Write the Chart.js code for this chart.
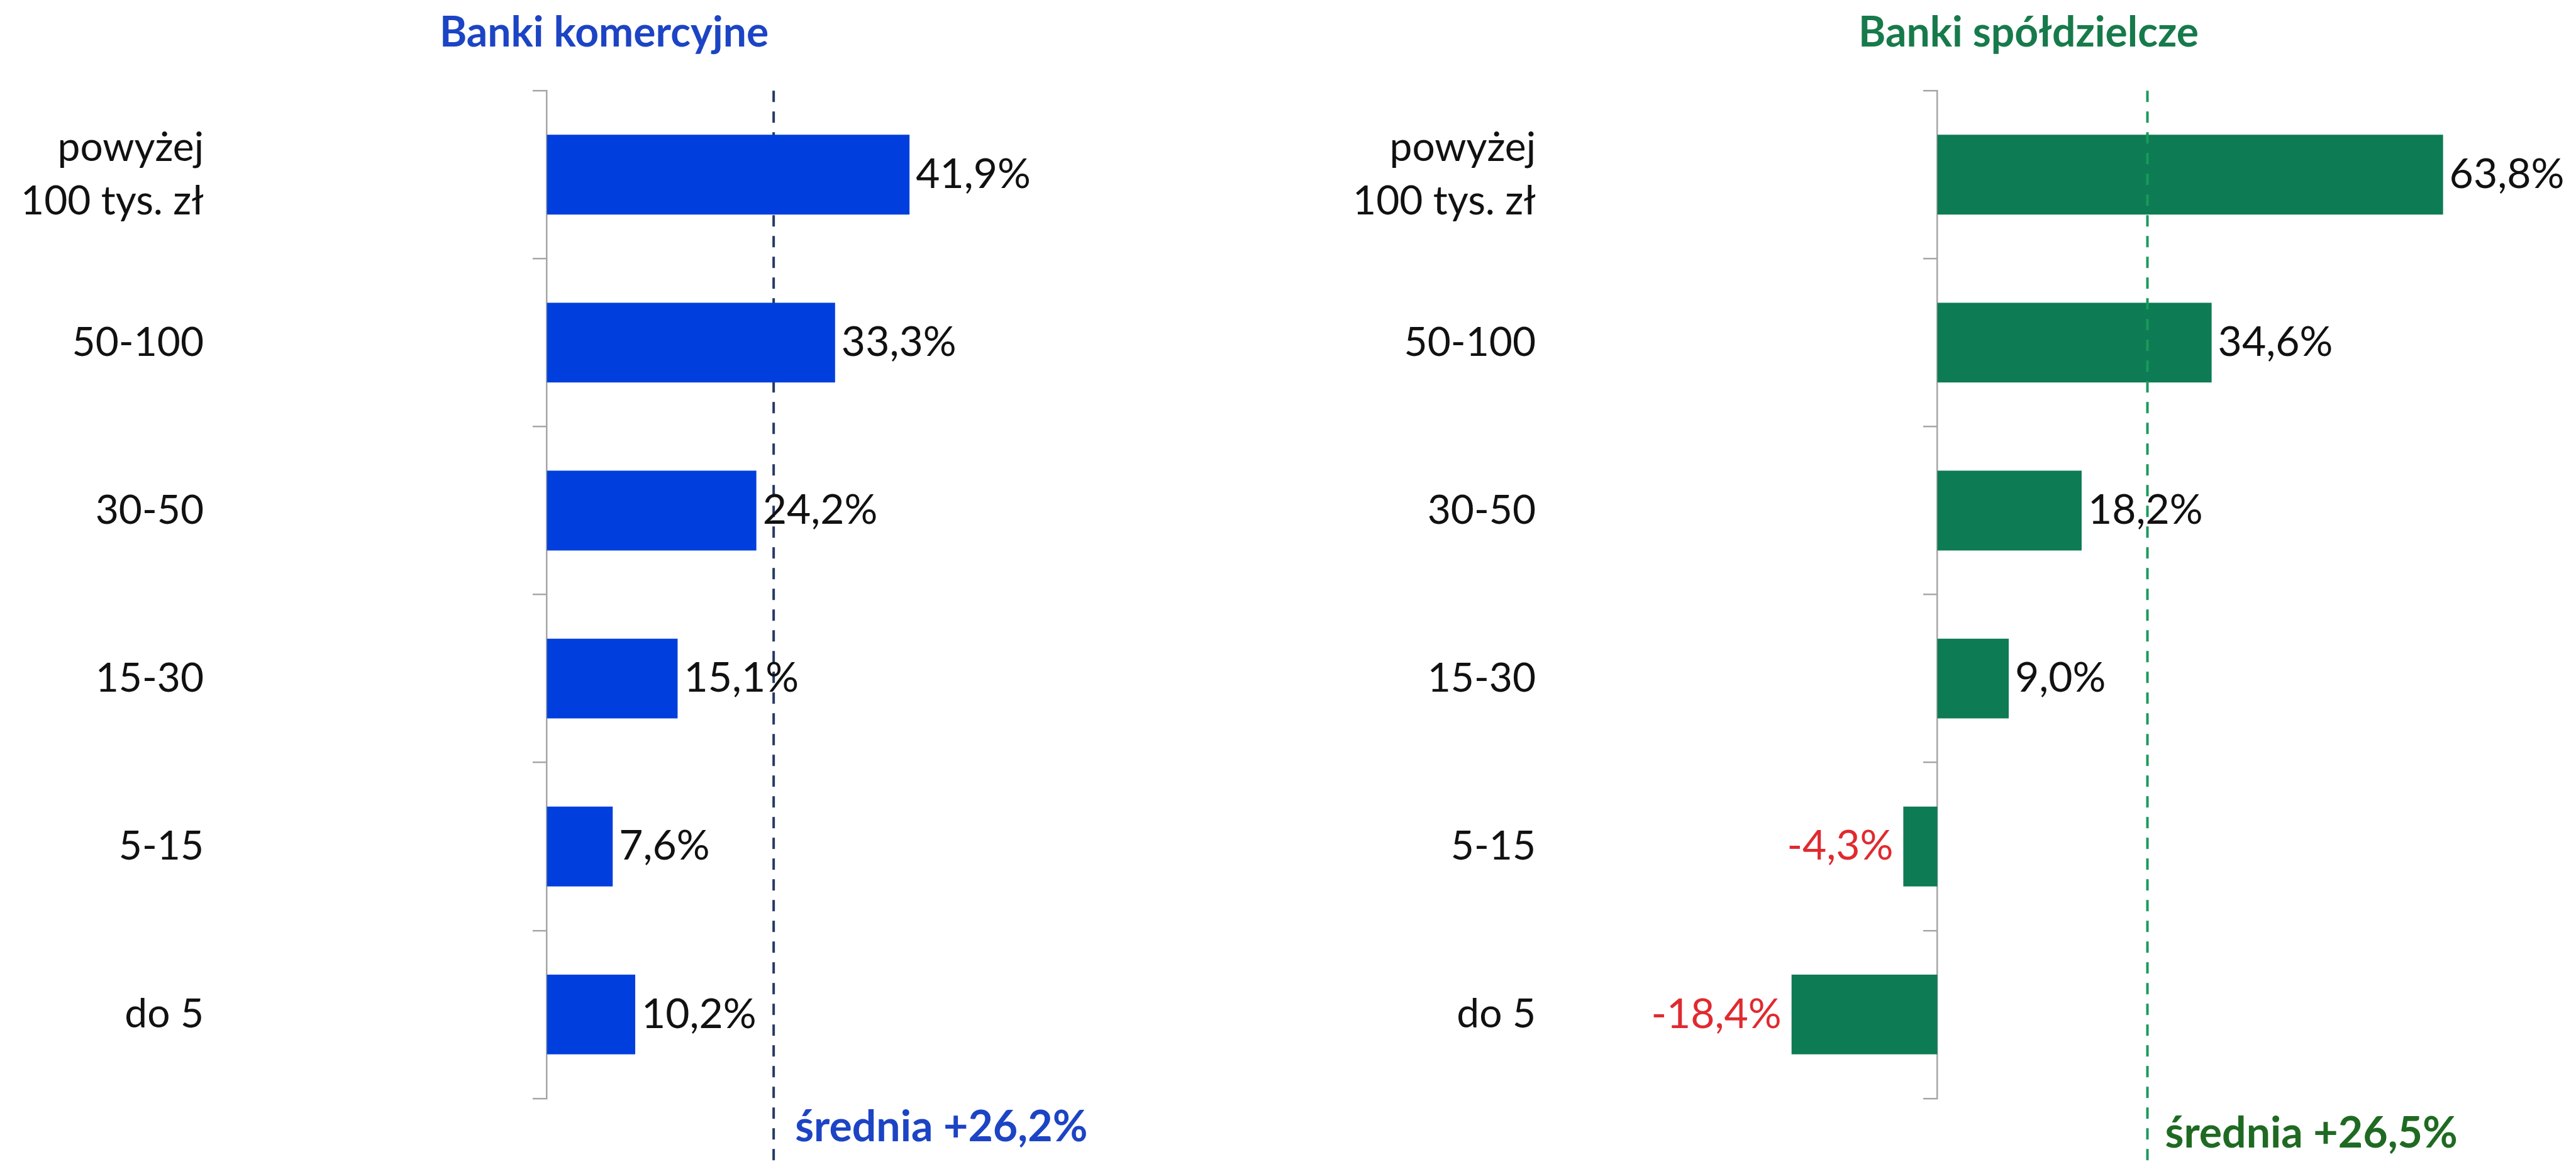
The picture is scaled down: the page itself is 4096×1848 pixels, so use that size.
<!DOCTYPE html>
<html lang="pl">
<head>
<meta charset="UTF-8">
<title>Banki komercyjne i spółdzielcze</title>
<script src="https://cdn.jsdelivr.net/npm/chart.js"></script>
<style>
  html, body { margin: 0; padding: 0; background: #fff; }
  .wrap { display: flex; width: 4096px; height: 1848px; }
  canvas { display: block; }
</style>
</head>
<body>
<div class="wrap">
  <canvas id="chartKom" width="2048" height="1848"></canvas>
  <canvas id="chartSpol" width="2048" height="1848"></canvas>
</div>
<script>
// dane
const categories = [["powyżej", "100 tys. zł"], "50-100", "30-50", "15-30", "5-15", "do 5"];
const komercyjne = [41.9, 33.3, 24.2, 15.1, 7.6, 10.2];
const spoldzielcze = [63.8, 34.6, 18.2, 9.0, -4.3, -18.4];
const sredniaKom = 26.2;
const sredniaSpol = 26.5;

const fontFamily = "Lato, 'Open Sans', sans-serif";
const fmt = v => v.toFixed(1).replace(".", ",") + "%";

// etykiety wartości przy słupkach
const valueLabels = {
    id: "valueLabels",
    afterDatasetsDraw(chart) {
        const ctx = chart.ctx;
        const meta = chart.getDatasetMeta(0);
        const data = chart.data.datasets[0].data;
        ctx.save();
        ctx.font = "66px " + fontFamily;
        ctx.textBaseline = "middle";
        meta.data.forEach((bar, i) => {
            const v = data[i];
            if (v < 0) {
                ctx.fillStyle = "#e02a2f";
                ctx.textAlign = "right";
                ctx.fillText(fmt(v), bar.x - 16, bar.y);
            } else {
                ctx.fillStyle = "#111";
                ctx.textAlign = "left";
                ctx.fillText(fmt(v), bar.x + 10, bar.y);
            }
        });
        ctx.restore();
    }
};

// linia średniej
function drawSrednia(chart, opts) {
    const { ctx, chartArea } = chart;
    const px = chart.scales.x.getPixelForValue(opts.value);
    ctx.save();
    ctx.strokeStyle = opts.lineColor;
    ctx.lineWidth = 4;
    ctx.setLineDash([18, 15]);
    ctx.beginPath();
    ctx.moveTo(px, chartArea.top);
    ctx.lineTo(px, chart.height);
    ctx.stroke();
    ctx.setLineDash([]);
    ctx.font = "bold 68px " + fontFamily;
    ctx.fillStyle = opts.textColor;
    ctx.textAlign = "left";
    ctx.textBaseline = "middle";
    ctx.fillText("średnia +" + fmt(opts.value), px + opts.textGap, chartArea.bottom + opts.textDy);
    ctx.restore();
}
const sredniaLine = {
    id: "sredniaLine",
    beforeDatasetsDraw(chart, args, opts) { if (!opts.onTop) drawSrednia(chart, opts); },
    afterDatasetsDraw(chart, args, opts) { if (opts.onTop) drawSrednia(chart, opts); }
};

function makeChart(id, cfg) {
    return new Chart(document.getElementById(id), {
        type: "bar",
        data: {
            labels: categories,
            datasets: [{
                data: cfg.values,
                backgroundColor: cfg.barColor,
                borderWidth: 0,
                barPercentage: 0.475,
                categoryPercentage: 1.0,
                yAxisID: "y"
            }]
        },
        options: {
            indexAxis: "y",
            responsive: false,
            animation: false,
            layout: { padding: { left: 0, right: cfg.padRight, top: 0, bottom: 84 } },
            scales: {
                x: { display: false, min: cfg.min, max: cfg.max },
                y: {
                    position: "left",
                    afterFit: s => { s.width = cfg.labelWidth; },
                    grid: { display: false, drawTicks: false },
                    border: { display: false },
                    ticks: { color: "#111", padding: 16, font: { family: fontFamily, size: 64, lineHeight: 1.33 } }
                },
                y2: {
                    type: "category",
                    axis: "y",
                    position: { x: 0 },
                    offset: true,
                    grid: { offset: true, drawOnChartArea: false, drawTicks: true, tickLength: 21, color: "#a6a6a6", lineWidth: 2.5 },
                    border: { display: true, color: "#a6a6a6", width: 2.5 },
                    ticks: { display: false }
                }
            },
            plugins: {
                legend: { display: false },
                tooltip: { enabled: false },
                title: {
                    display: true,
                    fullSize: false,
                    text: cfg.title,
                    color: cfg.titleColor,
                    font: { family: fontFamily, size: 66, weight: "bold", lineHeight: 1.2 },
                    padding: { top: 13, bottom: 52 }
                },
                sredniaLine: cfg.srednia
            }
        },
        plugins: [sredniaLine, valueLabels]
    });
}

makeChart("chartKom", {
    values: komercyjne,
    barColor: "#003fdd",
    title: "Banki komercyjne",
    titleColor: "#1c44c4",
    min: -38.5,
    max: 51.7,
    labelWidth: 340,
    padRight: 467,
    srednia: { value: sredniaKom, lineColor: "#263a66", textColor: "#1c44c4", textGap: 34, textDy: 46, onTop: false }
});

makeChart("chartSpol", {
    values: spoldzielcze,
    barColor: "#0d7b53",
    title: "Banki spółdzielcze",
    titleColor: "#177a4b",
    min: -49.4,
    max: 72.4,
    labelWidth: 410,
    padRight: 103,
    srednia: { value: sredniaSpol, lineColor: "#1a9a5c", textColor: "#1f6a22", textGap: 28, textDy: 56, onTop: true }
});
</script>
</body>
</html>
